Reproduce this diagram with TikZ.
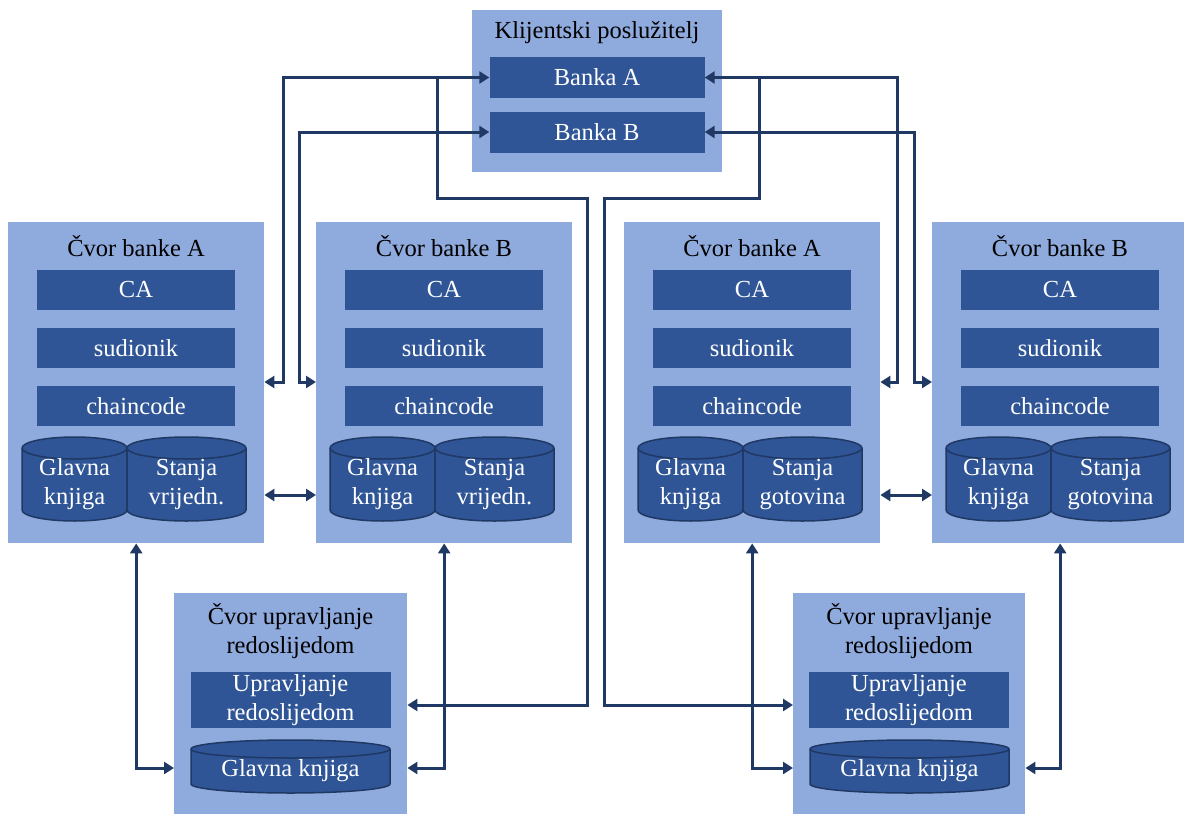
\documentclass[tikz,border=0pt]{standalone}
\usepackage{fontspec}
\setmainfont{Liberation Serif}
\usetikzlibrary{arrows.meta}
\definecolor{boxlight}{HTML}{8FAADC}
\definecolor{boxdark}{HTML}{2F5597}
\definecolor{linknavy}{HTML}{203864}

% ledger cylinder: name, left x, top y, width, height, ellipse radius, text
\newcommand{\ledger}[7]{%
  \draw[ledgerline] (#2,#3+#6) -- (#2,#3+#5-#6)
    arc[start angle=180,end angle=360,x radius=#4*0.5pt,y radius=#6*1pt]
    -- (#2+#4,#3+#6)
    arc[start angle=0,end angle=180,x radius=#4*0.5pt,y radius=#6*1pt] -- cycle;
  \draw[ledgerline,fill=none] (#2,#3+#6)
    arc[start angle=180,end angle=360,x radius=#4*0.5pt,y radius=#6*1pt];
  \node[ledgertext] (#1) at (#2+#4/2,#3+#5/2+#6/2) {#7};
}

\begin{document}
\begin{tikzpicture}[x=1pt,y=-1pt,
  nodebox/.style={fill=boxlight, inner sep=0, anchor=north west},
  partbox/.style={fill=boxdark, text=white, inner sep=0, align=center,
    minimum width=198pt, minimum height=40pt, font=\fontsize{24.5}{28.5}\selectfont},
  headtext/.style={inner sep=0, align=center, font=\fontsize{24.5}{28.5}\selectfont},
  ledgerline/.style={draw=linknavy, fill=boxdark, line width=1.5pt},
  ledgertext/.style={text=white, inner sep=0, align=center, font=\fontsize{24.5}{29}\selectfont},
  link/.style={draw=linknavy, line width=3pt},
  biarrow/.style={link, {Triangle[length=10pt,width=12pt]}-{Triangle[length=10pt,width=12pt]}},
  onearrow/.style={link, -{Triangle[length=10pt,width=12pt]}}]
\useasboundingbox (0,0) rectangle (1184,814);

% client
\node[nodebox, minimum width=250pt, minimum height=162pt] (client) at (472,10) {};
\node[headtext] (client-t) at (597,33) {Klijentski poslužitelj};
\node[partbox, minimum width=215pt, minimum height=41pt] (bankA) at (597,77.5) {Banka A};
\node[partbox, minimum width=215pt, minimum height=41pt] (bankB) at (597,132) {Banka B};

% peer nodes
\foreach \x/\name/\bk/\kind in {8/nA1/A/vrijedn., 316/nB1/B/vrijedn., 624/nA2/A/gotovina, 932/nB2/B/gotovina}{
  \node[nodebox, minimum width=256pt, minimum height=321pt] (\name) at (\x,222) {};
  \node[headtext] (\name-t) at (\x+128,246) {Čvor banke \bk};
  \node[partbox] (\name-ca) at (\x+128,290) {CA};
  \node[partbox] (\name-peer) at (\x+128,348) {sudionik};
  \node[partbox] (\name-cc) at (\x+128,406) {chaincode};
  \ledger{\name-gk}{\x+14}{437}{105}{84}{11}{Glavna\\knjiga}
  \ledger{\name-st}{\x+119}{437}{119}{84}{11}{Stanja\\\kind}
}

% ordering nodes
\node[nodebox, minimum width=233pt, minimum height=221pt] (ordL) at (174,593) {};
\node[headtext] (ordL-t) at (290.5,631) {Čvor upravljanje\\redoslijedom};
\node[partbox, minimum width=200pt, minimum height=56pt] (ordL-up) at (290.5,700) {Upravljanje\\redoslijedom};
\ledger{ordL-gk}{191}{740}{199}{53}{9}{Glavna knjiga}
\node[nodebox, minimum width=232pt, minimum height=221pt] (ordR) at (793,593) {};
\node[headtext] (ordR-t) at (909,631) {Čvor upravljanje\\redoslijedom};
\node[partbox, minimum width=200pt, minimum height=56pt] (ordR-up) at (909,700) {Upravljanje\\redoslijedom};
\ledger{ordR-gk}{810}{740}{199}{53}{9}{Glavna knjiga}

% levels
\coordinate (sideY) at (0,382);
\coordinate (midY) at (0,495);
\coordinate (upY) at (0,705);
\coordinate (lowY) at (0,768);
\path (bankA.west) ++(-52,0) coordinate (tapL);
\path (bankA.east) ++(55,0) coordinate (tapR);

% client to peers
\draw[biarrow] (bankA.west) -- ++(-206,0) |- (nA1.east |- sideY);
\draw[biarrow] (bankB.west) -- ++(-190,0) |- (nB1.west |- sideY);
\draw[biarrow] (bankA.east) -- ++(193,0) |- (nA2.east |- sideY);
\draw[biarrow] (bankB.east) -- ++(210,0) |- (nB2.west |- sideY);

% client to ordering
\draw[onearrow] (tapL) -- ++(0,121) -- ++(150,0) |- (ordL.east |- upY);
\draw[onearrow] (tapR) -- ++(0,121) -- ++(-155,0) |- (ordR.west |- upY);

% peer to peer
\draw[biarrow] (nA1.east |- midY) -- (nB1.west |- midY);
\draw[biarrow] (nA2.east |- midY) -- (nB2.west |- midY);

% peers to ordering
\draw[biarrow] (nA1.south) |- (ordL.west |- lowY);
\draw[biarrow] (nB1.south) |- (ordL.east |- lowY);
\draw[biarrow] (nA2.south) |- (ordR.west |- lowY);
\draw[biarrow] (nB2.south) |- (ordR.east |- lowY);
\end{tikzpicture}
\end{document}
